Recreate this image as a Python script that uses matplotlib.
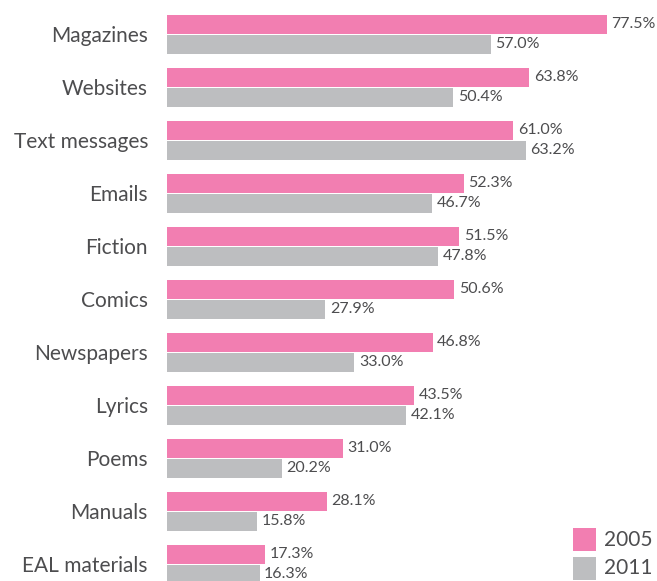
import matplotlib
matplotlib.use("Agg")
import matplotlib.pyplot as plt
from matplotlib.patches import Rectangle

plt.rcParams['font.family'] = ['Lato', 'DejaVu Sans']

categories = ["Magazines", "Websites", "Text messages", "Emails", "Fiction",
              "Comics", "Newspapers", "Lyrics", "Poems", "Manuals", "EAL materials"]
y2005 = [77.5, 63.8, 61.0, 52.3, 51.5, 50.6, 46.8, 43.5, 31.0, 28.1, 17.3]
y2011 = [57.0, 50.4, 63.2, 46.7, 47.8, 27.9, 33.0, 42.1, 20.2, 15.8, 16.3]
series = ["2005", "2011"]
colors = ["#f27eb1", "#bdbec0"]
text_color = "#4d4d4f"

W, H = 657, 581
fig = plt.figure(figsize=(W / 100, H / 100), dpi=100)
ax = fig.add_axes([167 / W, 0, 488 / W, 1])

step = 53.0
top = 34.25
pos = list(range(len(categories)))
off = 10 / step
bh = 18.5 / step

ax.barh([p - off for p in pos], y2005, height=bh, color=colors[0], linewidth=0)
ax.barh([p + off for p in pos], y2011, height=bh, color=colors[1], linewidth=0)

for p, a, b in zip(pos, y2005, y2011):
    ax.text(a + 0.8, p - off, f"{a:.1f}%", va="center", ha="left",
            fontsize=11.5, color=text_color)
    ax.text(b + 0.8, p + off, f"{b:.1f}%", va="center", ha="left",
            fontsize=11.5, color=text_color)

ax.set_xlim(0, 488 / (440 / 77.5))
ax.set_ylim((H - top) / step, -top / step)
ax.set_yticks(pos)
ax.set_yticklabels(categories, fontsize=15, color=text_color)
ax.tick_params(axis="y", length=0, pad=19 * 0.72)
ax.set_xticks([])
for s in ax.spines.values():
    s.set_visible(False)

# legend
for i, (name, c) in enumerate(zip(series, colors)):
    y0 = H - 551 if i == 0 else H - 580
    fig.patches.append(Rectangle((573 / W, y0 / H), 23 / W, 23 / H,
                                 transform=fig.transFigure, color=c, linewidth=0))
    fig.text(604 / W, (y0 + 11.5) / H, name, fontsize=15, color=text_color,
             va="center", ha="left")

fig.savefig("out.png", dpi=100)
